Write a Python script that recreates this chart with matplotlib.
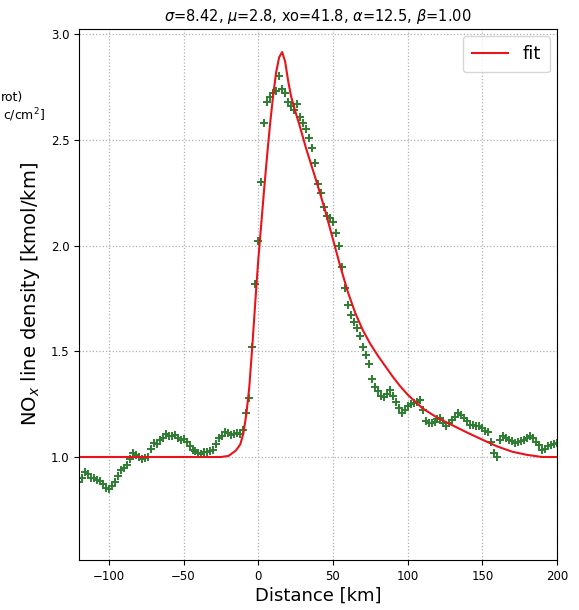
import numpy as np
import matplotlib
matplotlib.use("Agg")
import matplotlib.pyplot as plt

# measured line density, one value every 2 km from -120 to 200 km
distance_km = np.arange(-120, 201, 2)
line_density = [
    0.88, 0.90, 0.93, 0.92, 0.90, 0.90, 0.89, 0.885, 0.87, 0.855,      # -120 .. -102
    0.85, 0.865, 0.88, 0.91, 0.94, 0.95, 0.96, 0.99, 1.02, 1.01,       # -100 .. -82
    1.00, 0.99, 0.995, 1.00, 1.04, 1.065, 1.06, 1.08, 1.09, 1.11,      # -80 .. -62
    1.10, 1.10, 1.105, 1.09, 1.08, 1.085, 1.07, 1.05, 1.035, 1.03,     # -60 .. -42
    1.02, 1.015, 1.025, 1.025, 1.03, 1.035, 1.06, 1.09, 1.10, 1.12,    # -40 .. -22
    1.115, 1.105, 1.11, 1.115, 1.11, 1.13, 1.21, 1.28, 1.52, 1.82,     # -20 .. -2
    2.02, 2.30, 2.58, 2.68, 2.70, 2.72, 2.73, 2.80, 2.74, 2.72,        # 0 .. 18
    2.68, 2.66, 2.64, 2.67, 2.61, 2.58, 2.55, 2.51, 2.46, 2.39,        # 20 .. 38
    2.29, 2.25, 2.18, 2.14, 2.13, 2.11, 2.06, 2.00, 1.90, 1.80,        # 40 .. 58
    1.72, 1.67, 1.64, 1.61, 1.57, 1.52, 1.48, 1.44, 1.37, 1.33,        # 60 .. 78
    1.31, 1.29, 1.285, 1.30, 1.315, 1.29, 1.26, 1.23, 1.21, 1.22,      # 80 .. 98
    1.24, 1.25, 1.255, 1.26, 1.27, 1.22, 1.17, 1.16, 1.16, 1.165,      # 100 .. 118
    1.18, 1.185, 1.16, 1.145, 1.16, 1.175, 1.19, 1.21, 1.20, 1.185,    # 120 .. 138
    1.17, 1.15, 1.15, 1.145, 1.145, 1.135, 1.125, 1.12, 1.07, 1.02,    # 140 .. 158
    1.00, 1.08, 1.10, 1.09, 1.08, 1.075, 1.065, 1.07, 1.075, 1.08,     # 160 .. 178
    1.09, 1.10, 1.09, 1.07, 1.055, 1.035, 1.04, 1.05, 1.055, 1.06,     # 180 .. 198
    1.065,                                                             # 200
]

# fitted curve
fit_x = [-120, -30, -25, -20, -15, -12, -10, -8, -6, -4, -2, 0, 2, 4, 6, 8,
         10, 12, 14, 16, 18, 20, 22, 25, 28, 32, 36, 40, 45, 50, 55, 60, 65,
         70, 75, 80, 85, 90, 95, 100, 110, 120, 130, 140, 150, 160, 170, 180,
         190, 200]
fit_y = [1.0, 1.0, 1.0, 1.005, 1.03, 1.06, 1.11, 1.20, 1.33, 1.52, 1.73, 1.93,
         2.10, 2.27, 2.43, 2.58, 2.71, 2.82, 2.89, 2.915, 2.87, 2.78, 2.705,
         2.63, 2.56, 2.46, 2.37, 2.28, 2.16, 2.03, 1.90, 1.78, 1.68,
         1.60, 1.535, 1.48, 1.43, 1.38, 1.335, 1.295, 1.23, 1.185, 1.15,
         1.115, 1.082, 1.05, 1.025, 1.01, 1.0, 1.0]

title = r"$\sigma$=8.42, $\mu$=2.8, xo=41.8, $\alpha$=12.5, $\beta$=1.00"

fig = plt.figure(figsize=(5.79, 6.10), dpi=100, facecolor='white')
ax = fig.add_axes([0.1364, 0.082, 0.8256, 0.8705])

ax.plot(distance_km, line_density, '+', color='#2e7d32', markersize=6,
        markeredgewidth=1.4)
ax.plot(fit_x, fit_y, color='#e8141b', linewidth=1.5, label='fit')

ax.set_xlim(-120, 200)
ax.set_ylim(0.513, 3.024)
ax.set_xticks([-100, -50, 0, 50, 100, 150, 200])
ax.set_yticks([1.0, 1.5, 2.0, 2.5, 3.0])
ax.grid(True, linestyle=':', color='#b0b0b0', linewidth=0.9)
ax.tick_params(labelsize=8.5)

ax.set_title(title, fontsize=10.5, pad=6)
ax.set_xlabel("Distance [km]", fontsize=13, labelpad=3)
ax.set_ylabel(r"NO$_x$ line density [kmol/km]", fontsize=14, labelpad=6)
ax.legend(loc='upper right', fontsize=13, handlelength=2.0,
          borderpad=0.5, borderaxespad=0.4)

# what shows of the neighbouring panel's label at the left edge
fig.text(1 / 579, 1 - 97 / 610, "rot)", ha='left', va='center', fontsize=9)
fig.text(3 / 579, 1 - 115 / 610, r"c/cm$^2$]", ha='left', va='center',
         fontsize=9)

fig.savefig("out.png", dpi=100)
